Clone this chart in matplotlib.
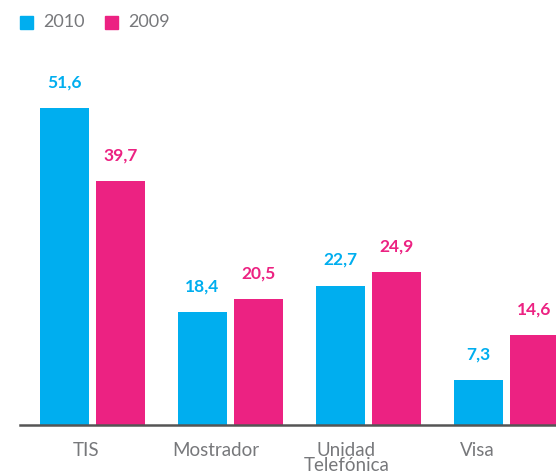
import matplotlib
matplotlib.use("Agg")
import matplotlib.pyplot as plt
from matplotlib.patches import Rectangle
import numpy as np

categories = ["TIS", "Mostrador", "Unidad\nTelefónica", "Visa"]
v2010 = [51.6, 18.4, 22.7, 7.3]
v2009 = [39.7, 20.5, 24.9, 14.6]
series_names = ["2010", "2009"]

BLUE = "#00AEEF"
PINK = "#EC2282"
GRAY = "#77787b"

plt.rcParams["font.family"] = ["Lato", "DejaVu Sans"]

fig = plt.figure(figsize=(5.56, 4.75), dpi=100)
ax = fig.add_axes([20 / 556, 1 - 425 / 475, 536 / 556, 375 / 475])

x = np.arange(len(categories))
w = 0.355
off = 0.203
ax.bar(x - off, v2010, w, color=BLUE)
ax.bar(x + off, v2009, w, color=PINK)

def fmt(v):
    return f"{v:.1f}".replace(".", ",")

for xi, a, b in zip(x, v2010, v2009):
    ax.text(xi - off, a + 4.2, fmt(a), ha="center", va="center", color=BLUE,
            fontsize=12.5, fontweight="bold")
    ax.text(xi + off, b + 4.2, fmt(b), ha="center", va="center", color=PINK,
            fontsize=12.5, fontweight="bold")

ax.set_xlim((20 - 92.5) / 138, (556 - 92.5) / 138)
ax.set_ylim(0, 375 / 6.14)
# category labels in the original sit on a slightly tighter pitch than the bars
ax.set_xticks(x * 0.944 - 0.047)
ax.set_xticklabels(categories, color=GRAY, fontsize=13.5, linespacing=0.9)
ax.tick_params(axis="x", length=0, pad=12)
ax.set_yticks([])
for s in ["top", "right", "left"]:
    ax.spines[s].set_visible(False)
ax.spines["bottom"].set_color("#555555")
ax.spines["bottom"].set_linewidth(1.8)

# legend
fig.patches.append(Rectangle((20 / 556, 1 - 29 / 475), 13 / 556, 13 / 475,
                             transform=fig.transFigure, color=BLUE))
fig.text(43 / 556, 1 - 22 / 475, series_names[0], color=GRAY, fontsize=13, va="center")
fig.patches.append(Rectangle((105 / 556, 1 - 29 / 475), 13 / 556, 13 / 475,
                             transform=fig.transFigure, color=PINK))
fig.text(128 / 556, 1 - 22 / 475, series_names[1], color=GRAY, fontsize=13, va="center")

fig.savefig("out.png", dpi=100)
